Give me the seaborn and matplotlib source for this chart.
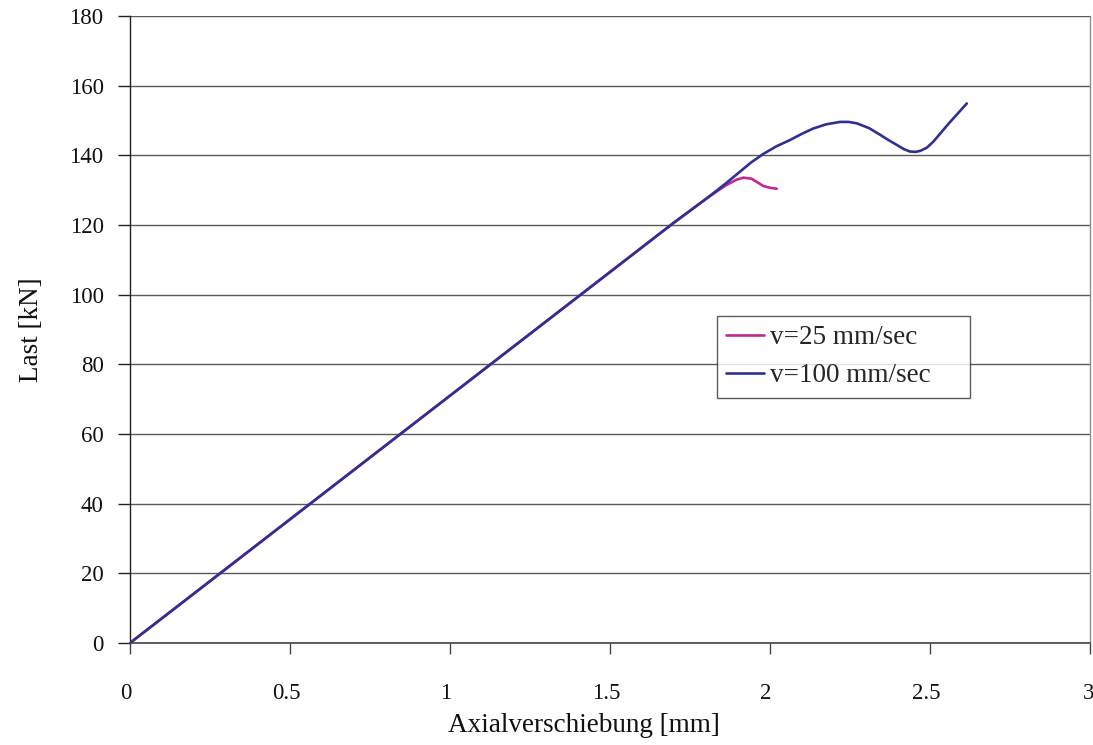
import numpy as np
import pandas as pd
import matplotlib
matplotlib.use("Agg")
import matplotlib.pyplot as plt
import matplotlib.transforms as mtransforms
import seaborn as sns

# Load–displacement curves for the two loading speeds
disp_25 = [0.0, 1.70, 1.80, 1.86, 1.895, 1.917, 1.942, 1.960, 1.979, 2.000, 2.021]
load_25 = [0.0, 120.7, 127.5, 131.3, 133.0, 133.6, 133.3, 132.3, 131.2, 130.7, 130.4]

disp_100 = [0.0, 1.70, 1.80, 1.86, 1.906, 1.94, 1.979, 2.02, 2.0625, 2.10, 2.135,
            2.175, 2.219, 2.245, 2.271, 2.31, 2.344, 2.37, 2.396, 2.42, 2.4375,
            2.455, 2.47, 2.49, 2.51, 2.56, 2.615]
load_100 = [0.0, 120.7, 127.5, 131.8, 135.3, 137.9, 140.4, 142.6, 144.4, 146.2, 147.7,
            148.9, 149.6, 149.6, 149.2, 147.8, 145.9, 144.4, 143.0, 141.7, 141.1,
            141.0, 141.3, 142.2, 143.9, 149.3, 154.9]

series_names = ["v=25 mm/sec", "v=100 mm/sec"]
series_colors = ["#c4268f", "#2e3192"]

x_ticks = [0, 0.5, 1, 1.5, 2, 2.5, 3]
x_tick_labels = ["0", "0.5", "1", "1.5", "2", "2.5", "3"]
y_ticks = [0, 20, 40, 60, 80, 100, 120, 140, 160, 180]

df = pd.concat([
    pd.DataFrame({"x": disp_25, "y": load_25, "Serie": series_names[0]}),
    pd.DataFrame({"x": disp_100, "y": load_100, "Serie": series_names[1]}),
])

sns.set_theme(style="white")
plt.rcParams["font.family"] = ["Liberation Serif", "DejaVu Serif"]

fig = plt.figure(figsize=(10.93, 7.45), dpi=100)
ax = fig.add_axes([0.1189, 0.1369, 0.9973 - 0.1189, 0.9785 - 0.1369])

sns.lineplot(data=df, x="x", y="y", hue="Serie", palette=dict(zip(series_names, series_colors)),
             hue_order=series_names, sort=False, estimator=None,
             linewidth=1.9, ax=ax, legend=True)

# Draw the faster curve above the slower one where they overlap
lines = ax.get_lines()
if len(lines) >= 2:
    lines[0].set_zorder(3)
    lines[1].set_zorder(4)

ax.set_xlim(0, 3)
ax.set_ylim(0, 180)
ax.set_xticks(x_ticks)
ax.set_xticklabels(x_tick_labels)
ax.set_yticks(y_ticks)

ax.yaxis.grid(True, color="#5a5a5a", linewidth=1.0)
ax.xaxis.grid(False)
ax.set_axisbelow(True)

ax.spines["top"].set_visible(False)
ax.spines["right"].set_color("#8c8c8c")
ax.spines["right"].set_linewidth(1.0)
ax.spines["left"].set_color("#222222")
ax.spines["bottom"].set_color("#444444")
ax.spines["left"].set_linewidth(1.0)
ax.spines["bottom"].set_linewidth(1.2)

ax.tick_params(axis="x", direction="out", length=8, width=1, color="#444444",
               pad=21, labelsize=16.5, labelcolor="#111111", bottom=True)
ax.tick_params(axis="y", direction="out", length=9, width=1, color="#222222",
               pad=10, labelsize=16.5, labelcolor="#111111", left=True)

# Tick labels along x sit slightly left of their ticks
shift = mtransforms.ScaledTranslation(-4 / 100, 0, fig.dpi_scale_trans)
for lab in ax.get_xticklabels():
    lab.set_transform(lab.get_transform() + shift)
last = ax.get_xticklabels()[-1]
last.set_horizontalalignment("right")
last.set_transform(last.get_transform() + mtransforms.ScaledTranslation(8 / 100, 0, fig.dpi_scale_trans))

ax.set_xlabel("Axialverschiebung [mm]", fontsize=19.5, color="#111111", labelpad=6)
ax.xaxis.label.set_x((584 - 130) / 960)
ax.set_ylabel("Last [kN]", fontsize=19.5, color="#111111", labelpad=18)

# Legend box with a fixed width, placed inside the plot area
lx0 = (717 - 130) / 960
lw = (970 - 717) / 960
ly_top = (643 - 316) / 627
lh = (397 - 316) / 627
leg = ax.legend(loc="upper left", bbox_to_anchor=(lx0, ly_top - lh, lw, lh), mode="expand",
                fontsize=19.5, frameon=True, fancybox=False, edgecolor="#333333",
                handlelength=1.37, handletextpad=0.25, borderpad=0.35, labelspacing=0.47,
                borderaxespad=0)
leg.get_frame().set_linewidth(1.0)
for h in leg.get_lines():
    h.set_linewidth(1.9)

fig.savefig("out.png", dpi=100, facecolor="white")
